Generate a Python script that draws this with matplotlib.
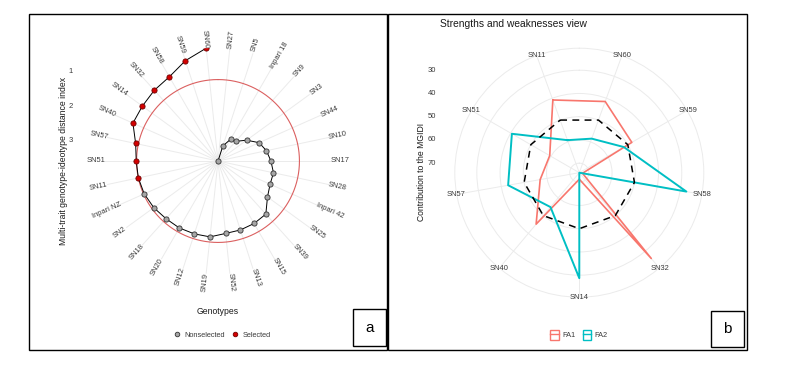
import matplotlib.pyplot as plt
import numpy as np
from matplotlib.lines import Line2D
from matplotlib.patches import Patch, Rectangle

plt.rcParams["font.family"] = ["Liberation Sans", "DejaVu Sans"]

W, H = 796, 372

# panel a: MGIDI of each genotype, ranked from worst to best
genotypes = ["SN27", "SN5", "Inpari 18", "SN9", "SN3", "SN44", "SN10", "SN17",
             "SN28", "Inpari 42", "SN25", "SN39", "SN15", "SN13", "SN52", "SN19",
             "SN12", "SN20", "SN18", "SN2", "Inpari NZ", "SN11", "SN51", "SN57",
             "SN40", "SN14", "SN32", "SN58", "SN59", "SN60"]
mgidi = [3.60, 3.14, 2.87, 2.83, 2.57, 2.29, 2.16, 2.06, 1.95, 1.94, 1.82, 1.52,
         1.50, 1.49, 1.48, 1.38, 1.37, 1.35, 1.34, 1.29, 1.25, 1.23, 1.22, 1.15,
         0.89, 0.88, 0.83, 0.77, 0.53, 0.30]
n_selected = 9
mgidi_ticks = [1, 2, 3]

# panel b: contribution of each factor to the MGIDI of the selected genotypes
sel_genotypes = ["SN11", "SN60", "SN59", "SN58", "SN32", "SN14", "SN40", "SN57", "SN51"]
fa1 = [40.8, 41.5, 48.0, 72.7, 25.9, 71.3, 45.2, 57.0, 59.4]
fa2 = [59.2, 58.5, 52.0, 27.3, 74.1, 28.7, 54.8, 43.0, 40.6]
contrib_ticks = [30, 40, 50, 60, 70]
equal_contrib = 50

FA1_COL = "#F8766D"
FA2_COL = "#00BFC4"
GRID = "#EBEBEB"
TXT = "#3A3A3A"


def fig_rect(x, y, w, h):
    # pixel box measured from the top-left corner -> figure fraction
    return [x / W, 1 - (y + h) / H, w / W, h / H]


def fx(x):
    return x / W


def fy(y):
    return 1 - y / H


def label_rotation(deg):
    rot = 90 - deg
    while rot < -90:
        rot += 180
    while rot > 90:
        rot -= 180
    return rot


fig = plt.figure(figsize=(W / 100, H / 100), dpi=100)

# ---------------- panel a ----------------
cx, cy, R = 218, 161, 113.4
ax = fig.add_axes(fig_rect(cx - R, cy - R, 2 * R, 2 * R), projection="polar")
ax.set_theta_zero_location("N")
ax.set_theta_direction(-1)
n = len(genotypes)
theta = (np.arange(n) + 0.5) * 2 * np.pi / n
vmax, vmin = max(mgidi), min(mgidi)

cut = mgidi[n - n_selected]
circ = np.linspace(0, 2 * np.pi, 361)
ax.plot(circ, np.full_like(circ, cut), color="#DB6060", lw=0.8, zorder=2)
ax.plot(theta, mgidi, color="black", lw=0.7, zorder=3)
is_sel = np.arange(n) >= n - n_selected
ax.scatter(theta[~is_sel], np.array(mgidi)[~is_sel], s=14, c="#A6A6A6",
           edgecolors="#333333", linewidths=0.6, zorder=4)
ax.scatter(theta[is_sel], np.array(mgidi)[is_sel], s=14, c="#D40000",
           edgecolors="#700000", linewidths=0.6, zorder=4)

ax.set_xlim(0, 2 * np.pi)
ax.set_ylim(vmax, vmin)
ax.set_xticks(theta)
ax.set_xticklabels([])
ax.set_yticks([])
ax.grid(True, axis="x", color=GRID, lw=0.7)
ax.spines["polar"].set_visible(False)
ax.set_facecolor("none")

rl = 122 / R * 0.5
for t, g in zip(theta, genotypes):
    ax.text(0.5 + rl * np.sin(t), 0.5 + rl * np.cos(t), g, transform=ax.transAxes,
            ha="center", va="center", fontsize=5.4, color=TXT,
            rotation=label_rotation(np.degrees(t)), rotation_mode="anchor")

for v in mgidi_ticks:
    ry = R * (vmax - v) / (vmax - vmin)
    fig.text(fx(71), fy(cy - ry), str(v), ha="center", va="center", fontsize=5.5, color=TXT)

fig.text(fx(63), fy(161), "Multi-trait genotype-ideotype distance index", rotation=90,
         ha="center", va="center", fontsize=6.2, color="#1A1A1A")
fig.text(fx(218), fy(312), "Genotypes", ha="center", va="center", fontsize=6.2, color="#1A1A1A")

h_ns = Line2D([], [], ls="none", marker="o", ms=3.3, mfc="#A6A6A6", mec="#333333", mew=0.6)
h_s = Line2D([], [], ls="none", marker="o", ms=3.3, mfc="#D40000", mec="#700000", mew=0.6)
fig.legend([h_ns, h_s], ["Nonselected", "Selected"], loc="center",
           bbox_to_anchor=(fx(222), fy(335)), ncol=2, frameon=False, fontsize=5.3,
           handlelength=1.0, handletextpad=0.6, columnspacing=0.8, labelcolor=TXT)

# ---------------- panel b ----------------
bx, by, Ro = 579.3, 172.7, 124.5
bmax = 74.1
bmin = bmax - (bmax - 25.9) * Ro / 112
ax2 = fig.add_axes(fig_rect(bx - Ro, by - Ro, 2 * Ro, 2 * Ro), projection="polar")
ax2.set_theta_zero_location("N")
ax2.set_theta_direction(-1)
m = len(sel_genotypes)
ang = np.radians((-20 + 40 * np.arange(m)) % 360)

closed = np.append(ang, ang[0])
ax2.plot(closed, np.append(fa1, fa1[0]), color=FA1_COL, lw=1.2, zorder=3)
ax2.plot(closed, np.append(fa2, fa2[0]), color=FA2_COL, lw=1.4, zorder=3)
ax2.plot(closed, np.full(m + 1, equal_contrib), color="black", lw=1.1,
         ls=(0, (4.5, 3.5)), zorder=4)

ax2.set_xlim(0, 2 * np.pi)
ax2.set_ylim(bmax, bmin)
ax2.set_xticks(ang)
ax2.set_xticklabels([])
ax2.set_yticks(contrib_ticks)
ax2.set_yticklabels([])
ax2.grid(True, color=GRID, lw=0.7)
ax2.spines["polar"].set_color(GRID)
ax2.spines["polar"].set_linewidth(0.7)
ax2.set_facecolor("none")

rl2 = 125 / Ro * 0.5
for t, g in zip(ang, sel_genotypes):
    ax2.text(0.5 + rl2 * np.sin(t), 0.5 + rl2 * np.cos(t), g, transform=ax2.transAxes,
             ha="center", va="center", fontsize=5.4, color=TXT)

for v in contrib_ticks:
    ry = Ro * (bmax - v) / (bmax - bmin)
    fig.text(fx(432), fy(by - ry), str(v), ha="center", va="center", fontsize=5.5, color=TXT)

fig.text(fx(422), fy(172), "Contribution to the MGIDI", rotation=90,
         ha="center", va="center", fontsize=6.2, color="#1A1A1A")
fig.text(fx(440), fy(24), "Strengths and weaknesses view", ha="left", va="center",
         fontsize=7.4, color="#1A1A1A")

hf1 = (Patch(facecolor="none", edgecolor=FA1_COL, lw=1.0), Line2D([], [], color=FA1_COL, lw=1.0))
hf2 = (Patch(facecolor="none", edgecolor=FA2_COL, lw=1.0), Line2D([], [], color=FA2_COL, lw=1.0))
fig.legend([hf1, hf2], ["FA1", "FA2"], loc="center", bbox_to_anchor=(fx(579), fy(335)),
           ncol=2, frameon=False, fontsize=5.3, handlelength=1.1, handleheight=1.6,
           handletextpad=0.5, columnspacing=1.0, labelcolor=TXT)

# ---------------- frames and panel letters ----------------
for x0, x1 in [(29, 386.5), (388, 746.5)]:
    fig.patches.append(Rectangle((fx(x0), fy(350)), (x1 - x0) / W, 336 / H,
                                 transform=fig.transFigure, fill=False,
                                 edgecolor="black", lw=1.0))
for (x0, y0, x1, y1), letter in [((353, 309, 386, 346), "a"), ((711, 311, 744, 347), "b")]:
    fig.patches.append(Rectangle((fx(x0), fy(y1)), (x1 - x0) / W, (y1 - y0) / H,
                                 transform=fig.transFigure, fill=False,
                                 edgecolor="black", lw=1.0))
    fig.text(fx((x0 + x1) / 2), fy((y0 + y1) / 2), letter, ha="center", va="center",
             fontsize=11, color="black")

fig.savefig("out.png", dpi=100, facecolor="white")
